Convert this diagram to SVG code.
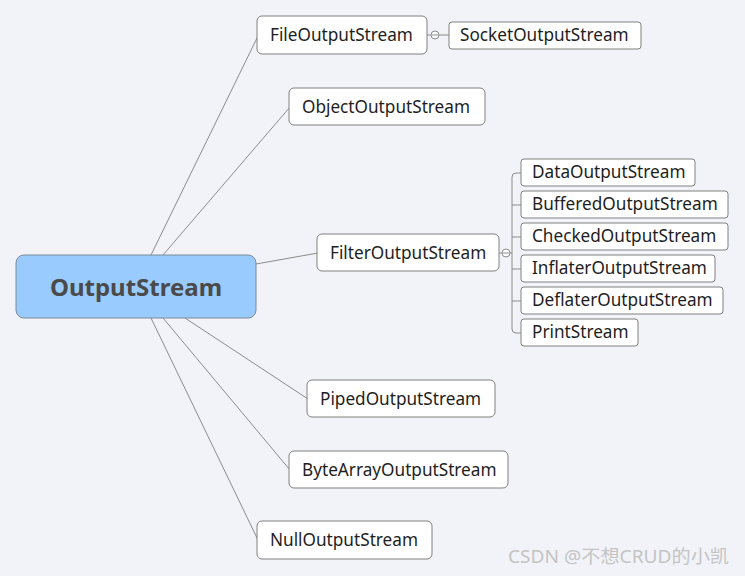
<svg xmlns="http://www.w3.org/2000/svg" width="745" height="576" viewBox="0 0 745 576">
<style>
.bg{fill:#f2f3f8}
.box{fill:#ffffff;stroke:#808080;stroke-width:1}
.root{fill:#99cbff;stroke:#7d8a99;stroke-width:1}
.t{font-family:"Noto Sans","Open Sans",sans-serif;font-size:17.2px;fill:#1e1e1e}
.rt{font-family:"Noto Sans","Open Sans",sans-serif;font-size:24px;font-weight:bold;fill:#4a4a4a}
.ln{fill:none;stroke:#8c8c8c;stroke-width:1}
.cc{fill:#ffffff;stroke:#8c8c8c;stroke-width:1}
.wm{font-family:"Noto Sans","Noto Sans CJK SC",sans-serif;font-size:18px;fill:#c4c4c4}
</style>
<rect class="bg" x="0" y="0" width="745" height="576"/>
<g id="connectors">
<line class="ln" x1="151" y1="255" x2="258" y2="36"/>
<line class="ln" x1="163" y1="255" x2="290" y2="107"/>
<line class="ln" x1="256" y1="264" x2="318" y2="253"/>
<line class="ln" x1="185" y1="318" x2="308" y2="399"/>
<line class="ln" x1="163" y1="318" x2="290" y2="470"/>
<line class="ln" x1="151" y1="318" x2="258" y2="540"/>
<line class="ln" x1="427" y1="35" x2="449" y2="35"/>
<circle class="cc" cx="435" cy="35" r="4"/>
<line class="ln" x1="432" y1="35" x2="438" y2="35"/>
<line class="ln" x1="499" y1="253" x2="512" y2="253"/>
<path class="ln" d="M521 173 H516 Q512 173 512 177 V329 Q512 333 516 333 H521"/>
<line class="ln" x1="512" y1="205" x2="521" y2="205"/>
<line class="ln" x1="512" y1="237" x2="521" y2="237"/>
<line class="ln" x1="512" y1="269" x2="521" y2="269"/>
<line class="ln" x1="512" y1="301" x2="521" y2="301"/>
<circle class="cc" cx="506" cy="253" r="4"/>
<line class="ln" x1="503" y1="253" x2="509" y2="253"/>
</g>
<g id="root">
<rect class="root" x="16" y="255" width="240" height="63" rx="8"/>
<text class="rt" x="136" y="296" text-anchor="middle">OutputStream</text>
</g>
<g id="file">
<rect class="box" x="257" y="16" width="170" height="38" rx="5"/>
<text class="t" x="270" y="41">FileOutputStream</text>
</g>
<g id="socket">
<rect class="box" x="449" y="22" width="192" height="27" rx="3"/>
<text class="t" x="460" y="41">SocketOutputStream</text>
</g>
<g id="object">
<rect class="box" x="289" y="88" width="196" height="37" rx="5"/>
<text class="t" x="302" y="113">ObjectOutputStream</text>
</g>
<g id="filter">
<rect class="box" x="317" y="234" width="182" height="37" rx="5"/>
<text class="t" x="330" y="259">FilterOutputStream</text>
</g>
<g id="data">
<rect class="box" x="521" y="159" width="174" height="27" rx="3"/>
<text class="t" x="532" y="178">DataOutputStream</text>
</g>
<g id="buffered">
<rect class="box" x="521" y="191" width="207" height="27" rx="3"/>
<text class="t" x="532" y="210">BufferedOutputStream</text>
</g>
<g id="checked">
<rect class="box" x="521" y="223" width="207" height="27" rx="3"/>
<text class="t" x="532" y="242">CheckedOutputStream</text>
</g>
<g id="inflater">
<rect class="box" x="521" y="255" width="194" height="27" rx="3"/>
<text class="t" x="532" y="274">InflaterOutputStream</text>
</g>
<g id="deflater">
<rect class="box" x="521" y="287" width="202" height="27" rx="3"/>
<text class="t" x="532" y="306">DeflaterOutputStream</text>
</g>
<g id="print">
<rect class="box" x="521" y="319" width="117" height="27" rx="3"/>
<text class="t" x="532" y="338">PrintStream</text>
</g>
<g id="piped">
<rect class="box" x="307" y="380" width="188" height="37" rx="5"/>
<text class="t" x="320" y="405">PipedOutputStream</text>
</g>
<g id="bytearray">
<rect class="box" x="289" y="451" width="219" height="37" rx="5"/>
<text class="t" x="302" y="476">ByteArrayOutputStream</text>
</g>
<g id="null">
<rect class="box" x="257" y="521" width="175" height="38" rx="5"/>
<text class="t" x="270" y="546">NullOutputStream</text>
</g>
<text class="wm" x="508" y="563" textLength="221" lengthAdjust="spacingAndGlyphs">CSDN @不想CRUD的小凯</text>
</svg>
